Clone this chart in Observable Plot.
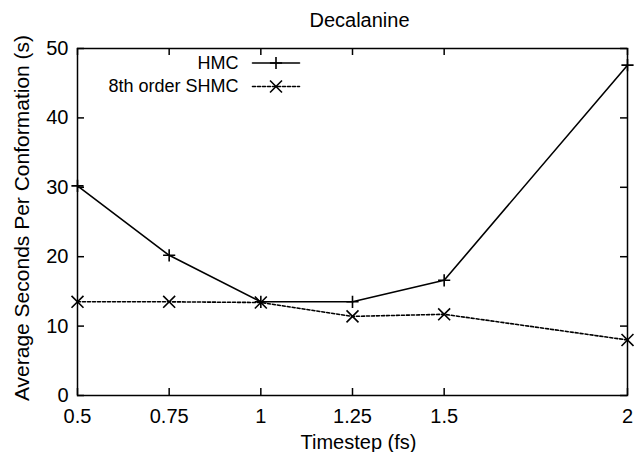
<!DOCTYPE html>
<html><head><meta charset="utf-8">
<script src="https://cdn.jsdelivr.net/npm/d3@7"></script>
<script src="https://cdn.jsdelivr.net/npm/@observablehq/plot@0.6"></script>
<style>body{margin:0;background:#fff}</style>
</head><body><div id="chart"></div>
<script>
const timesteps = [0.5, 0.75, 1, 1.25, 1.5, 2];
const hmc = [30.2, 20.2, 13.5, 13.5, 16.6, 47.6];
const shmc = [13.5, 13.5, 13.4, 11.4, 11.7, 8.0];
const xTicks = [0.5, 0.75, 1, 1.25, 1.5, 2];
const yTicks = [0, 10, 20, 30, 40, 50];
const seriesNames = ["HMC", "8th order SHMC"];
const title = "Decalanine";
const xLabel = "Timestep (fs)";
const yLabel = "Average Seconds Per Conformation (s)";

const W = 634, H = 452, mL = 77, mR = 7, mT = 48, mB = 57;
const innerW = W - mL - mR, innerH = H - mT - mB;
const hmcData = timesteps.map((t, i) => ({x: t, y: hmc[i]}));
const shmcData = timesteps.map((t, i) => ({x: t, y: shmc[i]}));

// pixel -> data helpers for legend placement
const px2x = d3.scaleLinear([mL, W - mR], [0.5, 2]);
const px2y = d3.scaleLinear([H - mB, mT], [0, 50]);
const legend = [
  {name: seriesNames[0], py: 62.5, dash: null, symbol: "plus", r: 4},
  {name: seriesNames[1], py: 86, dash: "3,2", symbol: "times", r: 5.5}
];
const lx0 = 252, lx1 = 299, ltx = 238;

const marks = [
  Plot.frame({stroke: "black", strokeWidth: 1.5}),
  Plot.tickX(xTicks, {x: d => d, insetTop: innerH - 7, stroke: "black", strokeWidth: 1.5}),
  Plot.tickX(xTicks, {x: d => d, insetBottom: innerH - 7, stroke: "black", strokeWidth: 1.5}),
  Plot.tickY(yTicks, {y: d => d, insetRight: innerW - 7, stroke: "black", strokeWidth: 1.5}),
  Plot.tickY(yTicks, {y: d => d, insetLeft: innerW - 7, stroke: "black", strokeWidth: 1.5}),
  Plot.axisX({ticks: xTicks, tickSize: 0, tickPadding: 13, tickFormat: d => String(d), fontSize: 20, label: null}),
  Plot.axisY({ticks: yTicks, tickSize: 0, tickPadding: 9, tickFormat: d => String(d), fontSize: 20, label: null}),
  Plot.line(hmcData, {x: "x", y: "y", stroke: "black", strokeWidth: 1.6}),
  Plot.line(shmcData, {x: "x", y: "y", stroke: "black", strokeWidth: 1.6, strokeDasharray: "3,2"}),
  Plot.dot(hmcData, {x: "x", y: "y", symbol: "plus", r: 4, stroke: "black", strokeWidth: 1.6}),
  Plot.dot(shmcData, {x: "x", y: "y", symbol: "times", r: 5.5, stroke: "black", strokeWidth: 1.6}),
  Plot.text([title], {frameAnchor: "top", dy: -28, dx: 7, lineAnchor: "middle", fontSize: 20, fill: "black"}),
  Plot.text([xLabel], {frameAnchor: "bottom", dy: 47, dx: 6, lineAnchor: "middle", fontSize: 20, fill: "black"}),
  Plot.text([yLabel], {frameAnchor: "left", rotate: -90, dx: -55, dy: -4, textAnchor: "middle", lineAnchor: "middle", fontSize: 21, fill: "black"})
];
for (const l of legend) {
  const y = px2y(l.py);
  marks.push(Plot.text([l.name], {x: () => px2x(ltx), y: () => y, textAnchor: "end", fontSize: 18, fill: "black"}));
  marks.push(Plot.line([px2x(lx0), px2x(lx1)], {x: d => d, y: () => y, stroke: "black", strokeWidth: 1.6, strokeDasharray: l.dash}));
  marks.push(Plot.dot([px2x((lx0 + lx1) / 2)], {x: d => d, y: () => y, symbol: l.symbol, r: l.r, stroke: "black", strokeWidth: 1.6}));
}

const chart = Plot.plot({
  width: W, height: H,
  marginLeft: mL, marginRight: mR, marginTop: mT, marginBottom: mB,
  style: {fontFamily: "'Liberation Sans', Arial, sans-serif", background: "white", color: "black"},
  x: {domain: [0.5, 2]},
  y: {domain: [0, 50]},
  marks
});
document.getElementById("chart").appendChild(chart);
</script>
</body></html>
